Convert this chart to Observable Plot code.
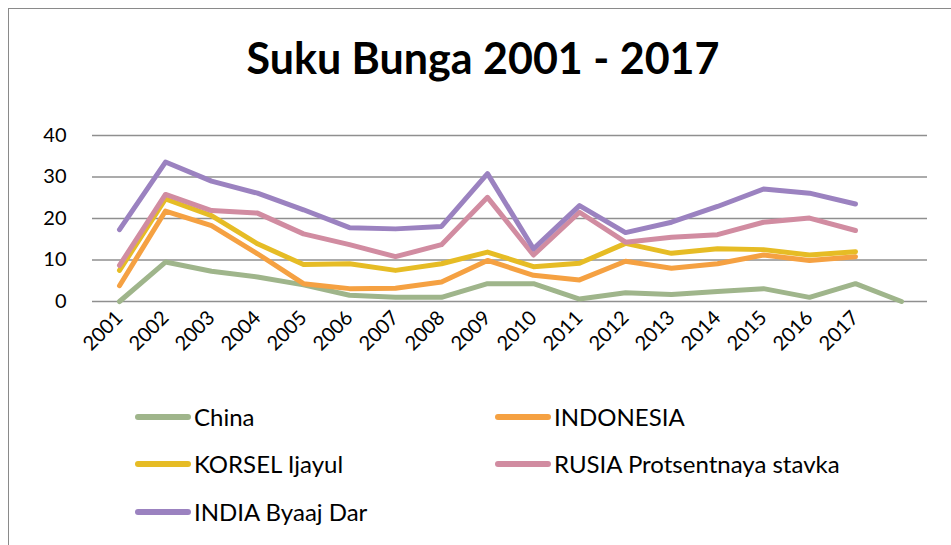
<!DOCTYPE html>
<html>
<head>
<meta charset="utf-8">
<script src="https://cdn.jsdelivr.net/npm/d3@7"></script>
<script src="https://cdn.jsdelivr.net/npm/@observablehq/plot@0.6"></script>
<style>
  html, body { margin: 0; padding: 0; background: #fff; overflow: hidden; width: 951px; height: 545px; }
  #frame { position: absolute; left: 8px; top: 8px; width: 1000px; height: 600px; border-left: 1px solid #8a8a8a; border-top: 1px solid #8a8a8a; }
  #title { position: absolute; left: 0; width: 966px; top: 32px; text-align: center; font-family: Lato, sans-serif; font-weight: bold; font-size: 43px; line-height: 1.2; color: #000; }
  #chart { position: absolute; left: 0; top: 0; }
  .leg { position: absolute; font-family: Lato, sans-serif; font-size: 24px; line-height: 1.2; color: #000; display: flex; align-items: center; }
  .sw { width: 56px; height: 6px; border-radius: 3px; margin-right: 3px; }
</style>
</head>
<body>
<div id="frame"></div>
<div id="title">Suku Bunga 2001 - 2017</div>
<div id="chart"></div>
<div id="legend"></div>
<script>
const years = ["2001","2002","2003","2004","2005","2006","2007","2008","2009","2010","2011","2012","2013","2014","2015","2016","2017",""];
const seriesNames = ["China","INDONESIA","KORSEL Ijayul","RUSIA Protsentnaya stavka","INDIA Byaaj Dar"];
const seriesColors = ["#9fb58b","#f5a142","#e6bc25","#d18ca1","#9b82c0"];
const china     = [0, 9.5, 7.3, 5.9, 4.0, 1.5, 1.0, 1.0, 4.3, 4.3, 0.6, 2.1, 1.7, 2.4, 3.1, 1.0, 4.3, 0];
const indonesia = [3.8, 21.8, 18.3, 11.5, 4.3, 3.1, 3.2, 4.7, 9.9, 6.3, 5.2, 9.7, 8.0, 9.1, 11.2, 9.9, 10.8, null];
const korsel    = [7.5, 24.7, 20.7, 13.9, 8.9, 9.1, 7.5, 9.1, 11.9, 8.4, 9.2, 14.0, 11.6, 12.7, 12.5, 11.2, 12.0, null];
const rusia     = [8.7, 25.8, 21.9, 21.3, 16.3, 13.7, 10.8, 13.7, 25.1, 11.2, 21.5, 14.3, 15.5, 16.1, 19.1, 20.1, 17.1, null];
const india     = [17.3, 33.6, 29.0, 26.1, 22.1, 17.8, 17.5, 18.1, 30.8, 12.7, 23.1, 16.6, 19.1, 22.9, 27.1, 26.1, 23.5, null];
const yTicks = [0, 10, 20, 30, 40];

const allSeries = [china, indonesia, korsel, rusia, india];
const rows = [];
allSeries.forEach((vals, si) => {
  vals.forEach((v, i) => rows.push({year: years[i], value: v, series: seriesNames[si]}));
});

const plot = Plot.plot({
  width: 951,
  height: 380,
  marginLeft: 92,
  marginRight: 24,
  marginTop: 135,
  marginBottom: 79,
  style: {fontFamily: "Lato, sans-serif", fontSize: "20px", color: "#000", background: "transparent", overflow: "visible"},
  x: {type: "point", domain: years, padding: 0.5, label: null},
  y: {domain: [0, 40], ticks: yTicks, label: null},
  color: {domain: seriesNames, range: seriesColors},
  marks: [
    Plot.ruleY(yTicks, {stroke: "#8f8f8f", strokeWidth: 1.6}),
    Plot.axisY({ticks: yTicks, tickSize: 0, tickPadding: 26, label: null, fontSize: 20}),
    Plot.axisX({tickSize: 0, tickPadding: 13, tickRotate: -45, label: null, fontSize: 20}),
    ...seriesNames.map((name) => Plot.line(rows.filter(d => d.series === name), {
      x: "year", y: "value", stroke: "series", strokeWidth: 5, strokeLinecap: "round", strokeLinejoin: "round", defined: d => d.value != null
    }))
  ]
});
document.getElementById("chart").appendChild(plot);

const legPos = [[135, 417], [495, 417], [135, 464], [495, 464], [135, 512]];
const legend = document.getElementById("legend");
seriesNames.forEach((name, i) => {
  const el = document.createElement("div");
  el.className = "leg";
  el.style.left = legPos[i][0] + "px";
  el.style.top = (legPos[i][1] - 14) + "px";
  el.innerHTML = `<div class="sw" style="background:${seriesColors[i]}"></div><span>${name}</span>`;
  legend.appendChild(el);
});
</script>
</body>
</html>
